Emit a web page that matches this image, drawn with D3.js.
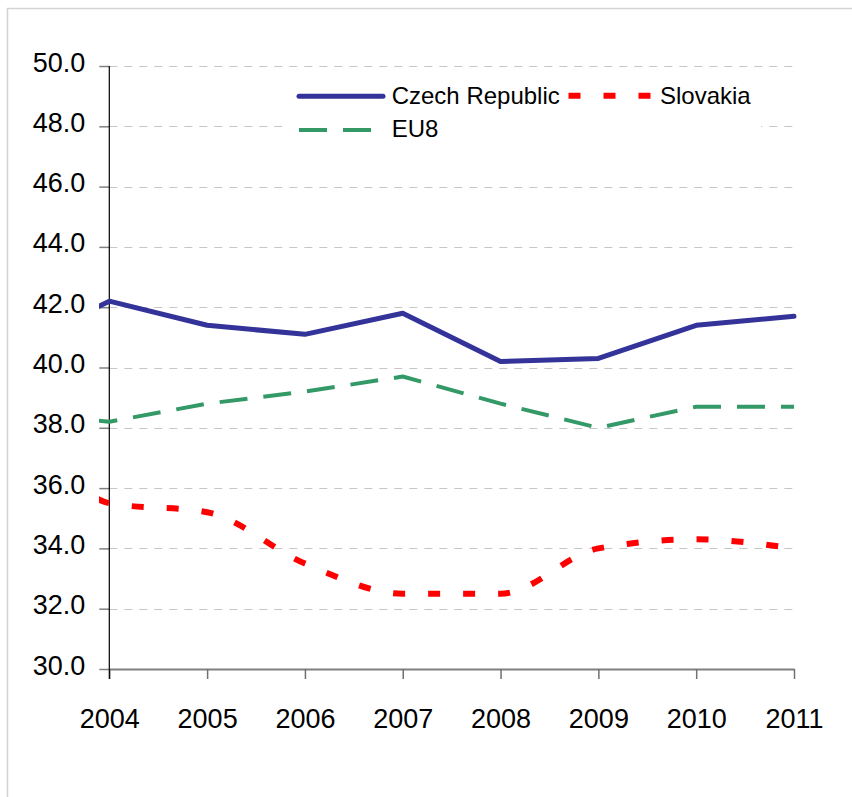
<!DOCTYPE html>
<html>
<head>
<meta charset="utf-8">
<script src="https://cdn.jsdelivr.net/npm/d3@7"></script>
<style>
  body { margin: 0; background: #fff; }
  svg { display: block; }
  text { font-family: "Liberation Sans", Arial, sans-serif; fill: #000; }
</style>
</head>
<body>
<svg id="chart" width="852" height="797"></svg>
<script>
// Years: 2003 only supplies the lead-in of each line; the axis starts at 2004.
const years = [2003, 2004, 2005, 2006, 2007, 2008, 2009, 2010, 2011];
const axisYears = [2004, 2005, 2006, 2007, 2008, 2009, 2010, 2011];
const czechRepublic = [40.6, 42.2, 41.4, 41.1, 41.8, 40.2, 40.3, 41.4, 41.7];
const slovakia = [39.5, 35.5, 35.2, 33.5, 32.5, 32.5, 34.0, 34.3, 34.0];
const eu8 = [38.5, 38.2, 38.8, 39.2, 39.7, 38.8, 38.0, 38.7, 38.7];
const yTickValues = [30, 32, 34, 36, 38, 40, 42, 44, 46, 48, 50];

const series = [
  { name: "EU8", values: eu8, color: "#339966", width: 4, dash: [28, 16], dashStartX: 133, cap: "butt", curve: d3.curveLinear },
  { name: "Slovakia", values: slovakia, color: "#ff0000", width: 6, dash: [12, 23], dashStartX: 131.7, cap: "butt", curve: d3.curveMonotoneX },
  { name: "Czech Republic", values: czechRepublic, color: "#333399", width: 5, dash: null, cap: "round", curve: d3.curveLinear }
];

const svg = d3.select("#chart");

// Outer chart frame
svg.append("rect")
  .attr("x", 7.5).attr("y", 8.5)
  .attr("width", 900).attr("height", 900)
  .attr("fill", "#fff")
  .attr("stroke", "#d4d4d4").attr("stroke-width", 1.5);

const x = d3.scaleLinear().domain([2004, 2011]).range([109.3, 794]);
const y = d3.scaleLinear().domain([30, 50]).range([669, 66]);

// Horizontal dashed gridlines
svg.append("g")
  .selectAll("line")
  .data(yTickValues.filter(v => v > 30))
  .join("line")
  .attr("x1", x(2004)).attr("x2", x(2011))
  .attr("y1", d => Math.round(y(d)) + 0.5).attr("y2", d => Math.round(y(d)) + 0.5)
  .attr("stroke", "#c6c6c6").attr("stroke-width", 1)
  .attr("stroke-dasharray", "8,7");

// Y axis (ticks and labels)
const yAxis = svg.append("g")
  .attr("transform", `translate(${x(2004)},0)`)
  .call(d3.axisLeft(y).tickValues(yTickValues).tickSize(10).tickSizeOuter(0).tickPadding(14)
    .tickFormat(d3.format(".1f")));
yAxis.select(".domain").remove();
yAxis.selectAll(".tick line").attr("stroke", "#808080").attr("stroke-width", 1.5);
yAxis.selectAll(".tick text")
  .attr("dy", null).attr("y", 5)
  .style("font-size", "27px");

// X axis
const xAxis = svg.append("g")
  .attr("transform", `translate(0,${y(30)})`)
  .call(d3.axisBottom(x).tickValues(axisYears).tickSize(10).tickSizeOuter(0).tickFormat(d3.format("d")));
xAxis.select(".domain").attr("stroke", "#808080").attr("stroke-width", 2);
xAxis.selectAll(".tick line").attr("stroke", "#707070").attr("stroke-width", 1.5);
xAxis.selectAll(".tick text")
  .attr("dy", null).attr("y", 58.7)
  .style("font-size", "27px");

// Vertical axis line (black), running down past the category axis
svg.append("line")
  .attr("x1", x(2004)).attr("x2", x(2004))
  .attr("y1", y(50)).attr("y2", y(30) + 10)
  .attr("stroke", "#000").attr("stroke-width", 1.2);

// Series lines, clipped just left of the vertical axis
svg.append("clipPath").attr("id", "plotClip")
  .append("rect").attr("x", 99).attr("y", 0).attr("width", 720).attr("height", 700);

// Path length at which a path first reaches a given x (binary search)
function lengthAtX(node, targetX) {
  let lo = 0, hi = node.getTotalLength();
  for (let k = 0; k < 40; k++) {
    const mid = (lo + hi) / 2;
    if (node.getPointAtLength(mid).x < targetX) lo = mid; else hi = mid;
  }
  return (lo + hi) / 2;
}

const plot = svg.append("g").attr("clip-path", "url(#plotClip)");
series.forEach(s => {
  const line = d3.line()
    .x((d, i) => x(years[i]))
    .y(d => y(d))
    .curve(s.curve);
  const path = plot.append("path")
    .datum(s.values)
    .attr("d", line)
    .attr("fill", "none")
    .attr("stroke", s.color)
    .attr("stroke-width", s.width)
    .attr("stroke-linecap", s.cap)
    .attr("stroke-linejoin", "round");
  if (s.dash) {
    const period = s.dash[0] + s.dash[1];
    const start = lengthAtX(path.node(), s.dashStartX);
    const offset = ((period - (start % period)) % period);
    path.attr("stroke-dasharray", s.dash.join(","))
        .attr("stroke-dashoffset", offset);
  }
});

// Legend
const legend = svg.append("g");
legend.append("rect")
  .attr("x", 287).attr("y", 78).attr("width", 474).attr("height", 66)
  .attr("fill", "#fff");

const legendItems = [
  { s: series[2], x1: 299, x2: 383, ly: 96.3, tx: 391.7, ty: 103.5 },
  { s: series[1], x1: 568.5, x2: 653, ly: 95.7, tx: 660, ty: 103.5 },
  { s: series[0], x1: 299, x2: 372, ly: 130, tx: 391.7, ty: 137 }
];
legendItems.forEach(it => {
  legend.append("line")
    .attr("x1", it.x1).attr("x2", it.x2)
    .attr("y1", it.ly).attr("y2", it.ly)
    .attr("stroke", it.s.color)
    .attr("stroke-width", it.s.width)
    .attr("stroke-linecap", it.s.cap)
    .attr("stroke-dasharray", it.s.dash ? it.s.dash.join(",") : null);
  legend.append("text")
    .attr("x", it.tx).attr("y", it.ty)
    .style("font-size", "24px")
    .text(it.s.name);
});
</script>
</body>
</html>
